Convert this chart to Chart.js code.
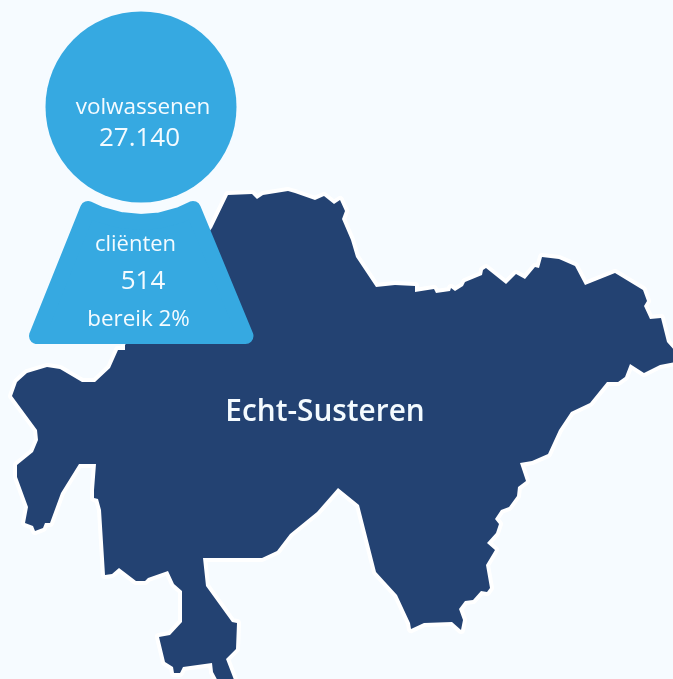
<!DOCTYPE html>
<html>
<head>
<meta charset="utf-8">
<style>
  html, body { margin: 0; padding: 0; background: #f6fbff; overflow: hidden; }
  canvas { display: block; }
</style>
<script src="https://cdn.jsdelivr.net/npm/chart.js@4/dist/chart.umd.min.js"></script>
</head>
<body>
<canvas id="myChart" width="673" height="679"></canvas>
<script>
  // municipality outline, axes run in picture units
  const outlineX = [212,228,252,257,263,288,295,315,324,334,340,345,342,351,356,376,395,415,415,434,436,450,451,455,463,465,482,483,486,506,516,525,535,539,542,559,575,585,615,643,647,644,650,661,667,675,675,660,644,630,625,618,607,590,571,559,548,532,520,526,518,517,509,501,495,499,496,487,495,486,490,487,481,473,465,459,463,461,452,424,411,410,397,376,359,338,317,290,277,262,203,206,232,237,236,226,236,220,213,212,183,180,174,173,165,159,170,182,182,174,168,148,145,136,119,112,105,101,98,94,94,96,79,61,50,45,43,35,33,25,28,17,17,33,38,37,12,17,27,47,60,82,95,110,118,125,125];
  const outlineY = [228,195,194,199,195,191,193,200,196,204,200,211,219,240,257,287,285,286,292,289,293,291,288,291,286,282,275,270,268,284,274,279,267,268,257,259,266,285,273,290,301,306,319,318,342,351,362,365,373,364,377,382,382,403,412,430,454,461,463,481,487,496,507,510,519,524,533,543,550,565,588,592,591,600,601,609,620,630,622,623,629,623,595,572,505,488,512,534,551,558,558,586,622,623,649,659,685,685,672,663,667,673,673,667,662,637,635,622,591,584,571,578,581,581,568,574,575,510,499,498,490,464,464,493,523,523,528,531,526,523,507,477,465,452,440,430,396,382,373,367,369,382,382,368,350,350,345];

  const bubbleX = [141];
  const bubbleY = [107];
  const bubbleR = 95.5;

  // trapezoid, inset by the corner radius, the thick round line gives the corners
  const trapX = [37,245.5,193,180,160,141,120,100,88,37];
  const trapY = [336,336,209,215,220.4,222,220,214.5,209,336];

  const labels = ["volwassenen","27.140","cliënten","514","bereik 2%","Echt-Susteren"];
  const labelX = [143,139.5,135.5,143,138.5,325];
  const labelY = [108,139,245,281.5,319.5,413];
  const labelFont = ["400 22.5px 'Open Sans'","400 26px 'Open Sans'","400 22px 'Open Sans'","400 26px 'Open Sans'","400 22.4px 'Open Sans'","600 29.8px 'Open Sans'"];

  const zip = (xs, ys) => xs.map((x, i) => ({x: x, y: ys[i]}));

  const navy = "#234272";
  const blue = "#36a9e1";

  //writes the texts at their place on the scales
  const textPlugin = {
    id: "mapText",
    afterDraw(chart) {
      const ctx = chart.ctx;
      ctx.save();
      ctx.fillStyle = "#f4fbff";
      ctx.textAlign = "center";
      ctx.textBaseline = "middle";
      labels.forEach((txt, i) => {
        ctx.font = labelFont[i];
        ctx.fillText(txt, chart.scales.x.getPixelForValue(labelX[i]), chart.scales.y.getPixelForValue(labelY[i]));
      });
      ctx.restore();
    }
  };

  const myChart = new Chart("myChart", {
    type: "scatter",
    data: {
      datasets: [
        {
          label: "outline",
          data: zip(outlineX, outlineY),
          showLine: true,
          fill: false,
          borderColor: "#ffffff",
          borderWidth: 8,
          borderJoinStyle: "round",
          pointRadius: 0,
          order: 4
        },
        {
          label: "Echt-Susteren",
          data: zip(outlineX, outlineY),
          showLine: true,
          fill: "shape",
          backgroundColor: navy,
          borderWidth: 0,
          pointRadius: 0,
          order: 3
        },
        {
          label: "clienten",
          data: zip(trapX, trapY),
          showLine: true,
          fill: "shape",
          backgroundColor: blue,
          borderColor: blue,
          borderWidth: 16,
          borderJoinStyle: "round",
          borderCapStyle: "round",
          pointRadius: 0,
          order: 2
        },
        {
          label: "volwassenen",
          data: zip(bubbleX, bubbleY),
          backgroundColor: blue,
          borderWidth: 0,
          pointRadius: bubbleR,
          clip: false,
          order: 1
        }
      ]
    },
    options: {
      responsive: false,
      animation: false,
      layout: { padding: 0, autoPadding: false },
      scales: {
        x: { type: "linear", display: false, min: 0, max: 673 },
        y: { type: "linear", display: false, min: 0, max: 679, reverse: true }
      },
      plugins: {
        legend: { display: false },
        tooltip: { enabled: false }
      }
    },
    plugins: [textPlugin]
  });
</script>
</body>
</html>
